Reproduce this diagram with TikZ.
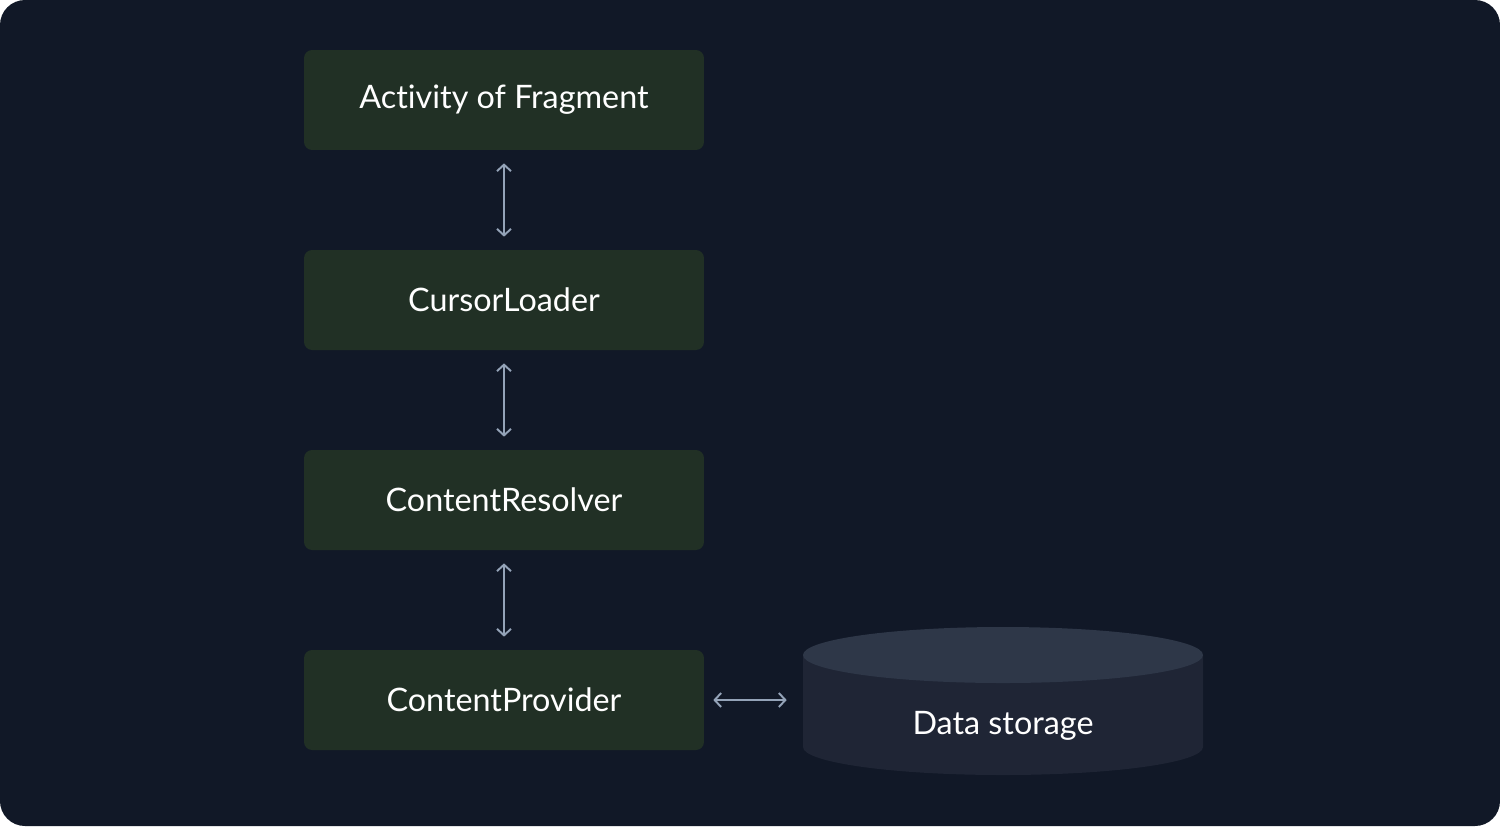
\documentclass[tikz,border=0pt]{standalone}
\usepackage{fontspec}
\setmainfont{Lato}[Ligatures=NoCommon]
\usepackage{tikz}
\usetikzlibrary{arrows.meta}
\definecolor{bg}{HTML}{111827}
\definecolor{boxfill}{HTML}{213025}
\definecolor{arrowcol}{HTML}{94A3B8}
\definecolor{dbtop}{HTML}{2E3748}
\definecolor{dbbody}{HTML}{1F2535}
\tikzset{x=0.02cm, y=-0.02cm, >={Straight Barb[length=0.13cm,width=0.28cm]}, font=\fontsize{18.4}{18.4}\selectfont}
\tikzstyle{block} = [fill=boxfill, rounded corners=0.16cm, minimum width=8cm, minimum height=2cm, text=white, inner sep=0pt, align=center]
\tikzstyle{link} = [<->, draw=arrowcol, line width=1.1pt, shorten >=0.26cm, shorten <=0.26cm]
\tikzstyle{store} = [minimum width=8cm, minimum height=3cm, inner sep=0pt]

\begin{document}
\begin{tikzpicture}
		\useasboundingbox (0,0) rectangle (1500,826);
		\fill [bg, rounded corners=0.5cm] (0,0) rectangle (1500,826);

		\node [block] (activity) at (504,100) {Activity of Fragment};
		\node [block] (loader) at (504,300) {CursorLoader};
		\node [block] (resolver) at (504,500) {ContentResolver};
		\node [block] (provider) at (504,700) {ContentProvider};

		% data storage drum
		\fill [dbbody] (803,655) -- (803,747) arc [start angle=180, end angle=0, x radius=200, y radius=28] -- (1203,655) -- cycle;
		\fill [dbtop] (1003,655) ellipse [x radius=200, y radius=28];
		\node [store] (storage) at (1003,700) {};
		\node [text=white] (storage-text) at (1003,726) {Data storage};

		\draw [link] (activity) -- (loader);
		\draw [link] (loader) -- (resolver);
		\draw [link] (resolver) -- (provider);
		\draw [link, shorten <=0.18cm, shorten >=0.32cm] (provider.east) -- (storage.west);
	\end{tikzpicture}
\end{document}
